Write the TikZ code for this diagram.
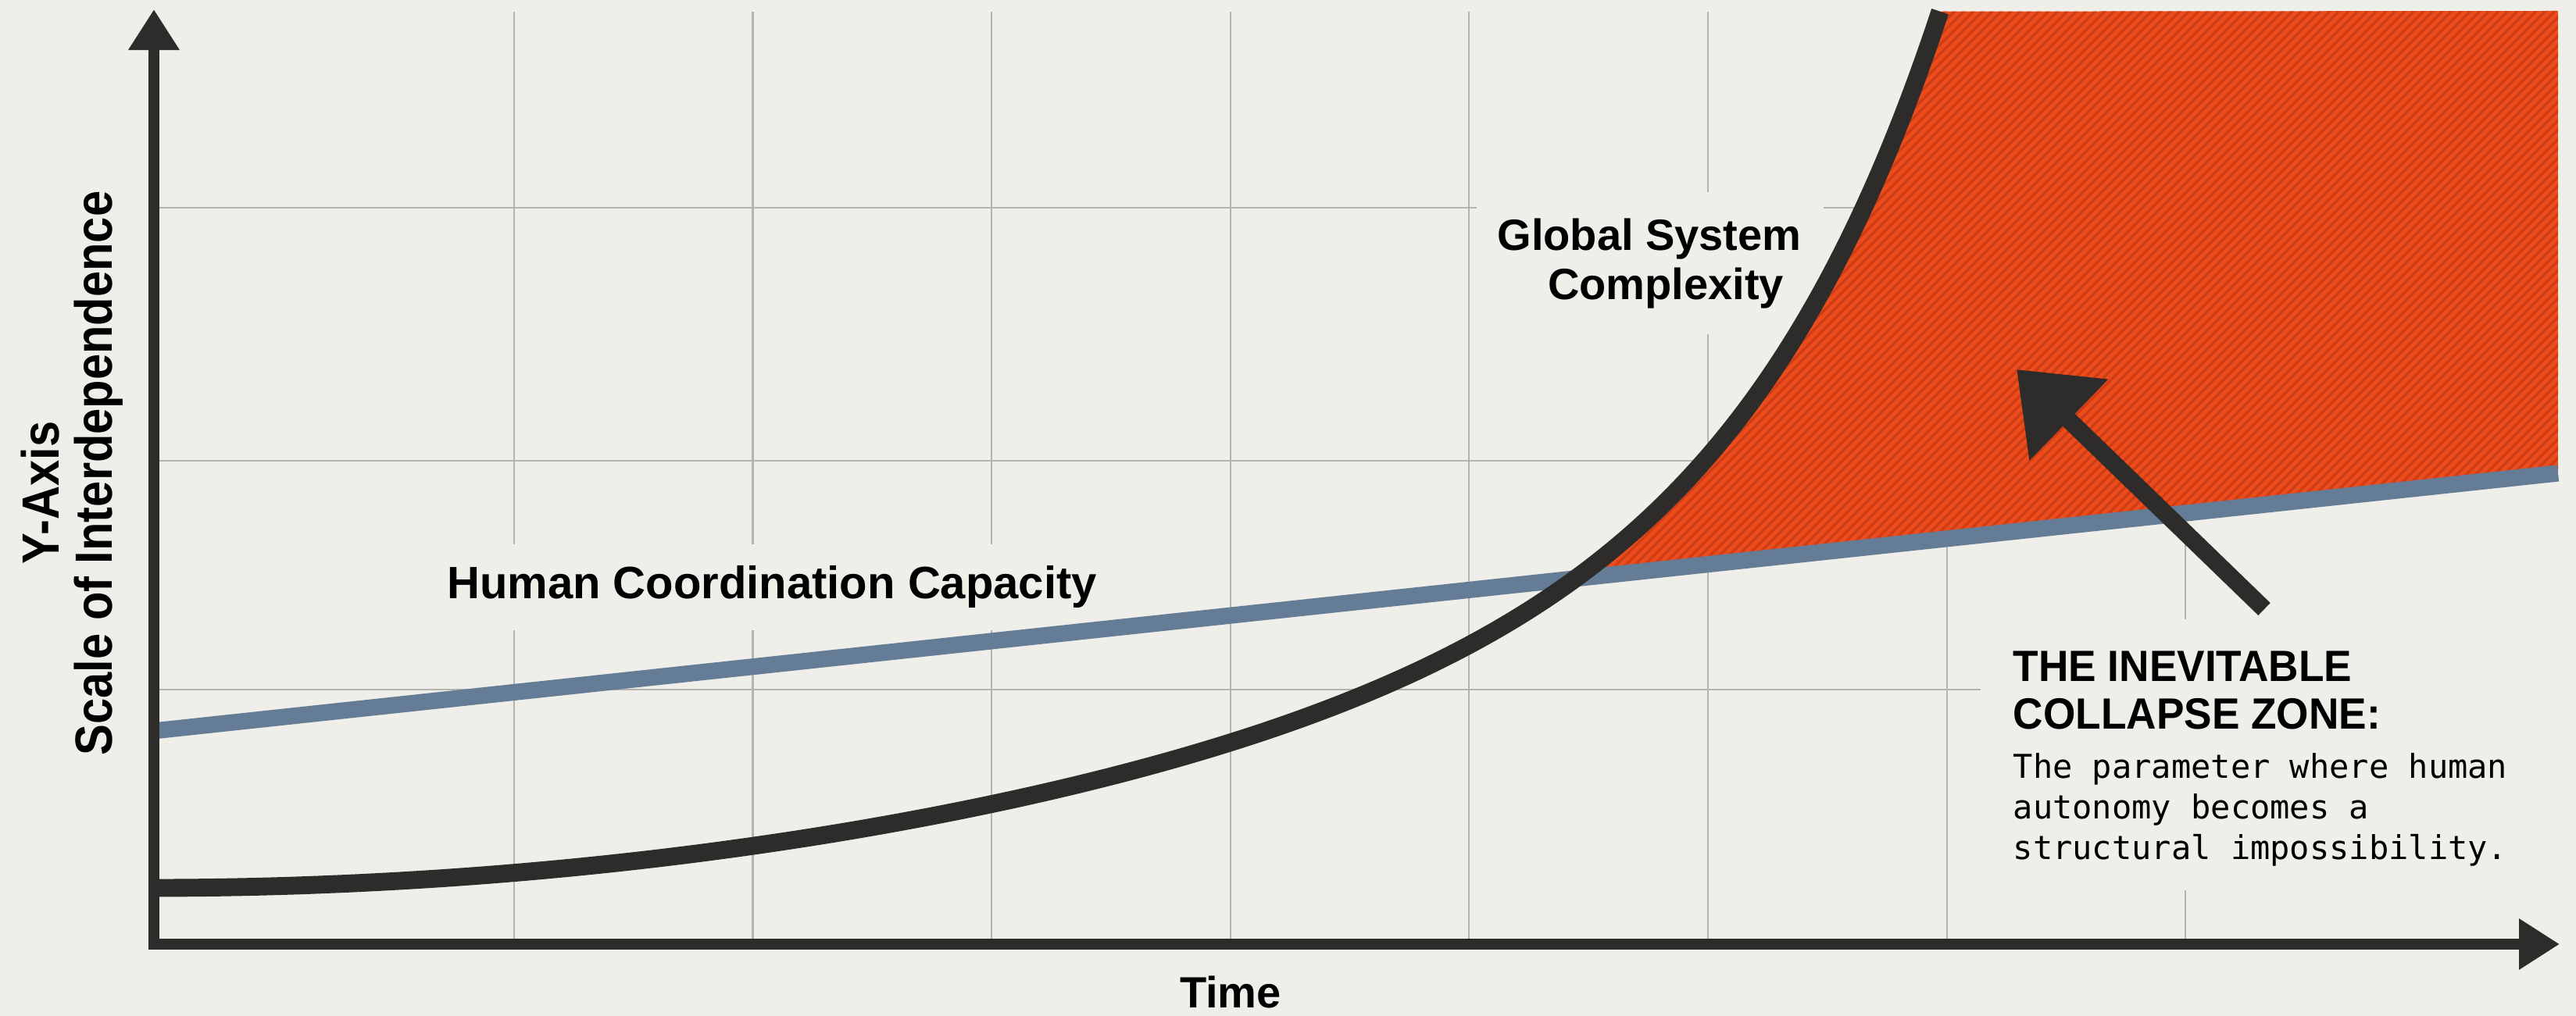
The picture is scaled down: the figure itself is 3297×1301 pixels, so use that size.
\documentclass[tikz,border=0pt]{standalone}
\usepackage{fontspec}
\usepackage{graphicx}
\setmainfont{Liberation Sans}
\newfontfamily\zonemono{DejaVu Sans Mono}
\usetikzlibrary{arrows.meta}
\definecolor{paper}{RGB}{239,238,233}
\definecolor{gridgray}{RGB}{180,180,176}
\definecolor{ink}{RGB}{45,44,42}
\definecolor{capblue}{RGB}{101,124,151}
\definecolor{zonered}{RGB}{236,76,27}
\definecolor{zonestripe}{RGB}{206,61,22}
\begin{document}
\begin{tikzpicture}[x=0.01cm, y=-0.01cm, line cap=butt,
  declare function={gsc(\t)=1137-(0.8885*((\t-196)/100)^2+0.07*(exp(0.4*(\t-196)/100)-1));},
  gridline/.style={draw=gridgray, line width=0.7pt},
  axisline/.style={draw=ink, line width=3.7pt, line join=miter,
    {Triangle[length=0.52cm,width=0.62cm]}-{Triangle[length=0.52cm,width=0.62cm]}},
  complexity/.style={draw=ink, line width=6.5pt},
  capacity/.style={draw=capblue, line width=6pt},
  pointer/.style={draw=ink, line width=6.3pt, -{Triangle[length=0.93cm,width=1.39cm]}},
  hatch/.style={draw=zonestripe, line width=0.9pt},
  bigbold/.style={font=\fontsize{15.93}{18}\selectfont\bfseries, text=black, inner sep=0pt},
  hcclbl/.style={font=\fontsize{16.5}{19}\selectfont\bfseries, text=black, fill=paper, inner xsep=0.2cm, inner ysep=0.28cm},
  ylbl/.style={font=\fontsize{19.06}{22}\selectfont\bfseries, text=black, inner sep=0pt},
  monotxt/.style={font=\zonemono\fontsize{11.95}{14}\selectfont, text=black, inner sep=0pt}
]
\useasboundingbox (0,0) rectangle (3297,1301);
\fill[paper] (0,0) rectangle (3297,1301);

% grid
\foreach \gx in {658,963.6,1269,1575,1880,2186,2492,2797}
  \draw[gridline] (\gx,15) -- (\gx,1209);
\foreach \gy in {266,590,883}
  \draw[gridline] (197,\gy) -- (3274,\gy);

% label backgrounds
\fill[paper] (1890,246) rectangle (2334,428);
\fill[paper] (2535,793) rectangle (3297,1140);
\node[hcclbl, anchor=base] (hcc) at (988,767) {Human Coordination Capacity};

% collapse zone
\coordinate (hcA) at (196,936);
\coordinate (hcB) at (3274,606);
\begin{scope}
  \clip (hcA) -- (hcB) -- (3274,14) -- (196,14) -- cycle;
  \fill[zonered] plot[domain=196:2483, samples=240] (\x,{gsc(\x)})
    -- (3274,14) -- (3274,1137) -- cycle;
  \begin{scope}
    \clip plot[domain=196:2483, samples=240] (\x,{gsc(\x)})
      -- (3274,14) -- (3274,1137) -- cycle;
    \foreach \c in {2480,2492,...,3912}
      \draw[hatch] (\c-800,800) -- (\c,0);
  \end{scope}
\end{scope}

% human coordination capacity
\draw[capacity] (hcA) -- (hcB);

% global system complexity
\draw[complexity, line join=round] plot[domain=196:2483, samples=240] (\x,{gsc(\x)});

% pointer arrow
\coordinate (arrtail) at (2898,780);
\coordinate (arrtip) at (2581,473);
\draw[pointer] (arrtail) -- (arrtip);

% axes
\coordinate (ytop) at (197,12);
\coordinate (origin) at (197,1209);
\coordinate (xend) at (3276,1209);
\draw[axisline] (ytop) -- (origin) -- (xend);

% texts
\node[bigbold, anchor=base] (time) at (1575,1290) {Time};
\node[ylbl, rotate=90, anchor=base] (yaxis) at (75,631) {\scalebox{0.89}[1]{Y-Axis}};
\node[ylbl, rotate=90, anchor=base] (yscale) at (143,606) {\scalebox{0.89}[1]{Scale of Interdependence}};
\node[bigbold, anchor=base] (gs1) at (2111,321) {Global System};
\node[bigbold, anchor=base] (gs2) at (2132,384) {Complexity};
\node[bigbold, anchor=base west] (z1) at (2576,873) {\scalebox{0.95}[1]{THE INEVITABLE}};
\node[bigbold, anchor=base west] (z2) at (2576,933) {\scalebox{0.95}[1]{COLLAPSE ZONE:}};
\node[monotxt, anchor=base west] (m1) at (2576,997) {The parameter where human};
\node[monotxt, anchor=base west] (m2) at (2576,1048) {autonomy becomes a};
\node[monotxt, anchor=base west] (m3) at (2576,1100) {structural impossibility.};
\end{tikzpicture}
\end{document}
